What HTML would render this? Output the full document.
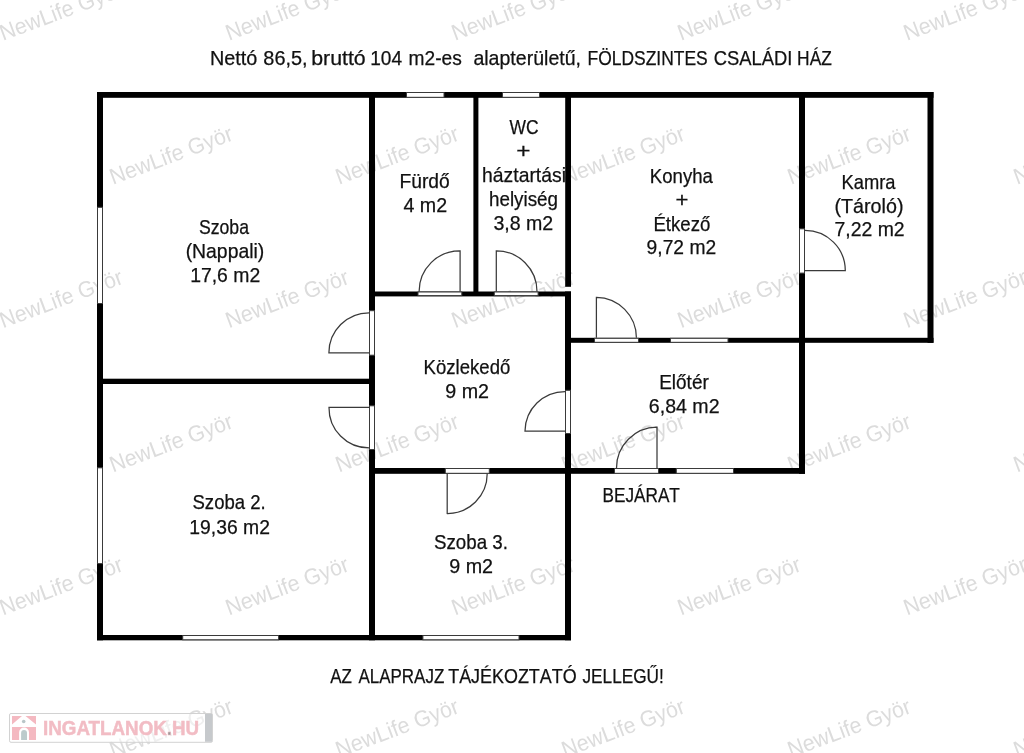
<!DOCTYPE html>
<html><head><meta charset="utf-8">
<style>
html,body{margin:0;padding:0;background:#fff;}
svg{display:block;will-change:transform;}
.wm{font-family:"Liberation Sans",sans-serif;font-size:22.5px;fill:#dcdcdc;}
.lbl{font-family:"Liberation Sans",sans-serif;font-size:20.3px;font-kerning:none;fill:#111;stroke:#111;stroke-width:0.25px;}
.logo{font-family:"Liberation Sans",sans-serif;font-size:20.5px;font-weight:bold;fill:#f2bcc4;stroke:#f2bcc4;stroke-width:0.5px;}
</style></head>
<body>
<svg width="1024" height="753" viewBox="0 0 1024 753">
<rect x="0" y="0" width="1024" height="753" fill="#fff"/>
<g><text x="0" y="0" transform="translate(3.0,40.8) rotate(-20.4)" textLength="129.5" lengthAdjust="spacingAndGlyphs" class="wm">NewLife Györ</text><text x="0" y="0" transform="translate(229.0,40.8) rotate(-20.4)" textLength="129.5" lengthAdjust="spacingAndGlyphs" class="wm">NewLife Györ</text><text x="0" y="0" transform="translate(455.0,40.8) rotate(-20.4)" textLength="129.5" lengthAdjust="spacingAndGlyphs" class="wm">NewLife Györ</text><text x="0" y="0" transform="translate(681.0,40.8) rotate(-20.4)" textLength="129.5" lengthAdjust="spacingAndGlyphs" class="wm">NewLife Györ</text><text x="0" y="0" transform="translate(907.0,40.8) rotate(-20.4)" textLength="129.5" lengthAdjust="spacingAndGlyphs" class="wm">NewLife Györ</text><text x="0" y="0" transform="translate(113.0,184.8) rotate(-20.4)" textLength="129.5" lengthAdjust="spacingAndGlyphs" class="wm">NewLife Györ</text><text x="0" y="0" transform="translate(339.0,184.8) rotate(-20.4)" textLength="129.5" lengthAdjust="spacingAndGlyphs" class="wm">NewLife Györ</text><text x="0" y="0" transform="translate(565.0,184.8) rotate(-20.4)" textLength="129.5" lengthAdjust="spacingAndGlyphs" class="wm">NewLife Györ</text><text x="0" y="0" transform="translate(791.0,184.8) rotate(-20.4)" textLength="129.5" lengthAdjust="spacingAndGlyphs" class="wm">NewLife Györ</text><text x="0" y="0" transform="translate(1017.0,184.8) rotate(-20.4)" textLength="129.5" lengthAdjust="spacingAndGlyphs" class="wm">NewLife Györ</text><text x="0" y="0" transform="translate(3.0,328.3) rotate(-20.4)" textLength="129.5" lengthAdjust="spacingAndGlyphs" class="wm">NewLife Györ</text><text x="0" y="0" transform="translate(229.0,328.3) rotate(-20.4)" textLength="129.5" lengthAdjust="spacingAndGlyphs" class="wm">NewLife Györ</text><text x="0" y="0" transform="translate(455.0,328.3) rotate(-20.4)" textLength="129.5" lengthAdjust="spacingAndGlyphs" class="wm">NewLife Györ</text><text x="0" y="0" transform="translate(681.0,328.3) rotate(-20.4)" textLength="129.5" lengthAdjust="spacingAndGlyphs" class="wm">NewLife Györ</text><text x="0" y="0" transform="translate(907.0,328.3) rotate(-20.4)" textLength="129.5" lengthAdjust="spacingAndGlyphs" class="wm">NewLife Györ</text><text x="0" y="0" transform="translate(113.0,472.6) rotate(-20.4)" textLength="129.5" lengthAdjust="spacingAndGlyphs" class="wm">NewLife Györ</text><text x="0" y="0" transform="translate(339.0,472.6) rotate(-20.4)" textLength="129.5" lengthAdjust="spacingAndGlyphs" class="wm">NewLife Györ</text><text x="0" y="0" transform="translate(565.0,472.6) rotate(-20.4)" textLength="129.5" lengthAdjust="spacingAndGlyphs" class="wm">NewLife Györ</text><text x="0" y="0" transform="translate(791.0,472.6) rotate(-20.4)" textLength="129.5" lengthAdjust="spacingAndGlyphs" class="wm">NewLife Györ</text><text x="0" y="0" transform="translate(1017.0,472.6) rotate(-20.4)" textLength="129.5" lengthAdjust="spacingAndGlyphs" class="wm">NewLife Györ</text><text x="0" y="0" transform="translate(3.0,615.6) rotate(-20.4)" textLength="129.5" lengthAdjust="spacingAndGlyphs" class="wm">NewLife Györ</text><text x="0" y="0" transform="translate(229.0,615.6) rotate(-20.4)" textLength="129.5" lengthAdjust="spacingAndGlyphs" class="wm">NewLife Györ</text><text x="0" y="0" transform="translate(455.0,615.6) rotate(-20.4)" textLength="129.5" lengthAdjust="spacingAndGlyphs" class="wm">NewLife Györ</text><text x="0" y="0" transform="translate(681.0,615.6) rotate(-20.4)" textLength="129.5" lengthAdjust="spacingAndGlyphs" class="wm">NewLife Györ</text><text x="0" y="0" transform="translate(907.0,615.6) rotate(-20.4)" textLength="129.5" lengthAdjust="spacingAndGlyphs" class="wm">NewLife Györ</text><text x="0" y="0" transform="translate(113.0,757.6) rotate(-20.4)" textLength="129.5" lengthAdjust="spacingAndGlyphs" class="wm">NewLife Györ</text><text x="0" y="0" transform="translate(339.0,757.6) rotate(-20.4)" textLength="129.5" lengthAdjust="spacingAndGlyphs" class="wm">NewLife Györ</text><text x="0" y="0" transform="translate(565.0,757.6) rotate(-20.4)" textLength="129.5" lengthAdjust="spacingAndGlyphs" class="wm">NewLife Györ</text><text x="0" y="0" transform="translate(791.0,757.6) rotate(-20.4)" textLength="129.5" lengthAdjust="spacingAndGlyphs" class="wm">NewLife Györ</text><text x="0" y="0" transform="translate(1017.0,757.6) rotate(-20.4)" textLength="129.5" lengthAdjust="spacingAndGlyphs" class="wm">NewLife Györ</text></g>
<g><rect x="97.00" y="92.00" width="836.50" height="5.80" fill="#000"/><rect x="97.00" y="92.00" width="6.00" height="548.30" fill="#000"/><rect x="97.00" y="635.00" width="474.00" height="5.30" fill="#000"/><rect x="565.00" y="291.50" width="6.00" height="348.80" fill="#000"/><rect x="375.00" y="468.00" width="430.00" height="5.80" fill="#000"/><rect x="799.00" y="92.00" width="6.00" height="381.80" fill="#000"/><rect x="571.00" y="337.80" width="362.50" height="5.00" fill="#000"/><rect x="927.50" y="92.00" width="6.00" height="250.80" fill="#000"/><rect x="369.00" y="92.00" width="6.00" height="548.30" fill="#000"/><rect x="97.00" y="378.70" width="278.00" height="5.30" fill="#000"/><rect x="473.40" y="92.00" width="5.00" height="204.00" fill="#000"/><rect x="565.20" y="92.00" width="5.80" height="194.80" fill="#000"/><rect x="375.00" y="291.50" width="196.00" height="4.90" fill="#000"/></g>
<g><rect x="406.50" y="92.50" width="37.50" height="4.80" fill="#fff" stroke="#3a3a3a" stroke-width="1"/><rect x="502.50" y="92.50" width="37.00" height="4.80" fill="#fff" stroke="#3a3a3a" stroke-width="1"/><rect x="97.50" y="207.30" width="5.00" height="96.20" fill="#fff" stroke="#3a3a3a" stroke-width="1"/><rect x="97.50" y="467.80" width="5.00" height="95.80" fill="#fff" stroke="#3a3a3a" stroke-width="1"/><rect x="182.70" y="635.50" width="95.90" height="4.30" fill="#fff" stroke="#3a3a3a" stroke-width="1"/><rect x="422.90" y="635.50" width="96.10" height="4.30" fill="#fff" stroke="#3a3a3a" stroke-width="1"/><rect x="670.50" y="338.30" width="57.50" height="4.00" fill="#fff" stroke="#3a3a3a" stroke-width="1"/><rect x="676.30" y="468.50" width="57.20" height="4.80" fill="#fff" stroke="#3a3a3a" stroke-width="1"/><rect x="418.00" y="292.00" width="43.80" height="3.60" fill="#fff" stroke="#3a3a3a" stroke-width="1"/><rect x="494.30" y="292.00" width="43.80" height="3.60" fill="#fff" stroke="#3a3a3a" stroke-width="1"/><rect x="369.50" y="310.70" width="5.00" height="44.50" fill="#fff" stroke="#3a3a3a" stroke-width="1"/><rect x="369.50" y="405.80" width="5.00" height="43.70" fill="#fff" stroke="#3a3a3a" stroke-width="1"/><rect x="565.50" y="390.30" width="5.00" height="43.20" fill="#fff" stroke="#3a3a3a" stroke-width="1"/><rect x="445.30" y="468.50" width="44.00" height="4.80" fill="#fff" stroke="#3a3a3a" stroke-width="1"/><rect x="614.50" y="468.50" width="44.00" height="4.80" fill="#fff" stroke="#3a3a3a" stroke-width="1"/><rect x="594.50" y="338.30" width="44.00" height="4.00" fill="#fff" stroke="#3a3a3a" stroke-width="1"/><rect x="799.50" y="228.80" width="5.00" height="44.30" fill="#fff" stroke="#3a3a3a" stroke-width="1"/></g>
<g><path d="M460.10,291.50 L460.10,250.80 A40.70,40.70 0 0 0 419.10,291.50" fill="none" stroke="#3a3a3a" stroke-width="1.25"/><path d="M496.30,291.50 L496.30,250.80 A40.70,40.70 0 0 1 537.00,291.50" fill="none" stroke="#3a3a3a" stroke-width="1.25"/><path d="M369.00,352.80 L328.90,352.80 A40.10,40.10 0 0 1 369.00,312.80" fill="none" stroke="#3a3a3a" stroke-width="1.25"/><path d="M369.00,407.40 L329.00,407.40 A40.00,40.00 0 0 0 369.00,447.90" fill="none" stroke="#3a3a3a" stroke-width="1.25"/><path d="M565.00,431.00 L525.00,431.00 A40.00,40.00 0 0 1 565.00,391.50" fill="none" stroke="#3a3a3a" stroke-width="1.25"/><path d="M447.20,473.80 L447.20,513.50 A39.70,39.70 0 0 0 487.20,473.80" fill="none" stroke="#3a3a3a" stroke-width="1.25"/><path d="M657.00,468.00 L657.00,427.20 A40.80,40.80 0 0 0 616.50,468.00" fill="none" stroke="#3a3a3a" stroke-width="1.25"/><path d="M596.40,337.80 L596.40,297.30 A40.50,40.50 0 0 1 636.40,337.80" fill="none" stroke="#3a3a3a" stroke-width="1.25"/><path d="M805.00,270.60 L845.30,270.60 A40.30,40.30 0 0 0 805.00,230.40" fill="none" stroke="#3a3a3a" stroke-width="1.25"/></g>
<g><text x="233.60" y="65.10" text-anchor="middle" textLength="47.41" lengthAdjust="spacingAndGlyphs" class="lbl">Nettó</text><text x="285.51" y="65.10" text-anchor="middle" textLength="44.31" lengthAdjust="spacingAndGlyphs" class="lbl">86,5,</text><text x="338.46" y="65.10" text-anchor="middle" textLength="54.62" lengthAdjust="spacingAndGlyphs" class="lbl">bruttó</text><text x="386.10" y="65.10" text-anchor="middle" textLength="31.86" lengthAdjust="spacingAndGlyphs" class="lbl">104</text><text x="435.16" y="65.10" text-anchor="middle" textLength="53.21" lengthAdjust="spacingAndGlyphs" class="lbl">m2-es</text><text x="527.21" y="65.10" text-anchor="middle" textLength="107.64" lengthAdjust="spacingAndGlyphs" class="lbl">alapterületű,</text><text x="647.64" y="65.10" text-anchor="middle" textLength="120.08" lengthAdjust="spacingAndGlyphs" class="lbl">FÖLDSZINTES</text><text x="753.08" y="65.10" text-anchor="middle" textLength="78.58" lengthAdjust="spacingAndGlyphs" class="lbl">CSALÁDI</text><text x="814.46" y="65.10" text-anchor="middle" textLength="34.72" lengthAdjust="spacingAndGlyphs" class="lbl">HÁZ</text><text x="223.95" y="234.30" text-anchor="middle" textLength="50.05" lengthAdjust="spacingAndGlyphs" class="lbl">Szoba</text><text x="224.95" y="258.20" text-anchor="middle" textLength="78.65" lengthAdjust="spacingAndGlyphs" class="lbl">(Nappali)</text><text x="225.20" y="282.10" text-anchor="middle" textLength="70.10" lengthAdjust="spacingAndGlyphs" class="lbl">17,6 m2</text><text x="424.59" y="188.30" text-anchor="middle" textLength="50.29" lengthAdjust="spacingAndGlyphs" class="lbl">Fürdő</text><text x="425.22" y="212.20" text-anchor="middle" textLength="43.69" lengthAdjust="spacingAndGlyphs" class="lbl">4 m2</text><text x="524.07" y="133.80" text-anchor="middle" textLength="29.04" lengthAdjust="spacingAndGlyphs" class="lbl">WC</text><text x="523.36" y="157.80" text-anchor="middle" textLength="14.24" lengthAdjust="spacingAndGlyphs" class="lbl">+</text><text x="524.03" y="181.80" text-anchor="middle" textLength="83.90" lengthAdjust="spacingAndGlyphs" class="lbl">háztartási</text><text x="523.55" y="205.50" text-anchor="middle" textLength="69.07" lengthAdjust="spacingAndGlyphs" class="lbl">helyiség</text><text x="523.32" y="229.50" text-anchor="middle" textLength="59.88" lengthAdjust="spacingAndGlyphs" class="lbl">3,8 m2</text><text x="681.34" y="183.00" text-anchor="middle" textLength="63.08" lengthAdjust="spacingAndGlyphs" class="lbl">Konyha</text><text x="681.91" y="207.00" text-anchor="middle" textLength="12.92" lengthAdjust="spacingAndGlyphs" class="lbl">+</text><text x="681.85" y="230.50" text-anchor="middle" textLength="56.91" lengthAdjust="spacingAndGlyphs" class="lbl">Étkező</text><text x="681.38" y="254.00" text-anchor="middle" textLength="69.52" lengthAdjust="spacingAndGlyphs" class="lbl">9,72 m2</text><text x="868.55" y="188.90" text-anchor="middle" textLength="54.06" lengthAdjust="spacingAndGlyphs" class="lbl">Kamra</text><text x="869.00" y="212.80" text-anchor="middle" textLength="68.99" lengthAdjust="spacingAndGlyphs" class="lbl">(Tároló)</text><text x="869.59" y="236.40" text-anchor="middle" textLength="70.12" lengthAdjust="spacingAndGlyphs" class="lbl">7,22 m2</text><text x="466.96" y="373.60" text-anchor="middle" textLength="86.71" lengthAdjust="spacingAndGlyphs" class="lbl">Közlekedő</text><text x="467.18" y="397.60" text-anchor="middle" textLength="43.76" lengthAdjust="spacingAndGlyphs" class="lbl">9 m2</text><text x="683.98" y="388.70" text-anchor="middle" textLength="49.52" lengthAdjust="spacingAndGlyphs" class="lbl">Előtér</text><text x="684.20" y="412.90" text-anchor="middle" textLength="70.73" lengthAdjust="spacingAndGlyphs" class="lbl">6,84 m2</text><text x="641.19" y="501.65" text-anchor="middle" textLength="77.35" lengthAdjust="spacingAndGlyphs" class="lbl">BEJÁRAT</text><text x="229.13" y="509.40" text-anchor="middle" textLength="73.29" lengthAdjust="spacingAndGlyphs" class="lbl">Szoba 2.</text><text x="229.65" y="533.60" text-anchor="middle" textLength="80.59" lengthAdjust="spacingAndGlyphs" class="lbl">19,36 m2</text><text x="470.93" y="548.55" text-anchor="middle" textLength="73.91" lengthAdjust="spacingAndGlyphs" class="lbl">Szoba 3.</text><text x="471.13" y="572.50" text-anchor="middle" textLength="43.87" lengthAdjust="spacingAndGlyphs" class="lbl">9 m2</text><text x="341.15" y="683.10" text-anchor="middle" textLength="21.71" lengthAdjust="spacingAndGlyphs" class="lbl">AZ</text><text x="401.35" y="683.10" text-anchor="middle" textLength="85.91" lengthAdjust="spacingAndGlyphs" class="lbl">ALAPRAJZ</text><text x="512.43" y="683.10" text-anchor="middle" textLength="128.41" lengthAdjust="spacingAndGlyphs" class="lbl">TÁJÉKOZTATÓ</text><text x="623.15" y="683.10" text-anchor="middle" textLength="81.38" lengthAdjust="spacingAndGlyphs" class="lbl">JELLEGŰ!</text></g>

<g>
  <rect x="9.5" y="713.5" width="203" height="28.8" rx="1.5" fill="#fff" fill-opacity="0.55" stroke="#d2d2d2" stroke-width="1"/>
  <rect x="205" y="714" width="7" height="27.8" fill="#c6c9cc"/>
  <path d="M12,715.9 L22,715.9 L12,724.4 Z M25.5,715.9 L36,715.9 L36,724.4 Z" fill="#f4b9c1"/>
  <path d="M12,727 L36,727 L36,740 L12,740 Z M19.1,740 L19.1,732.5 A4.95,4.95 0 0 1 29,732.5 L29,740 Z" fill="#f4b9c1" fill-rule="evenodd"/>
  <circle cx="23.7" cy="721.5" r="1.8" fill="#b9c6c8"/>
  <path d="M21.1,740 L21.1,733 A2.95,2.95 0 0 1 27,733 L27,740 Z" fill="#bccbcc"/>
  <text x="121.1" y="735.4" text-anchor="middle" textLength="156" lengthAdjust="spacingAndGlyphs" class="logo">INGATLANOK<tspan fill="#9a9a9a">.</tspan>HU</text>
</g>

</svg>
</body></html>
